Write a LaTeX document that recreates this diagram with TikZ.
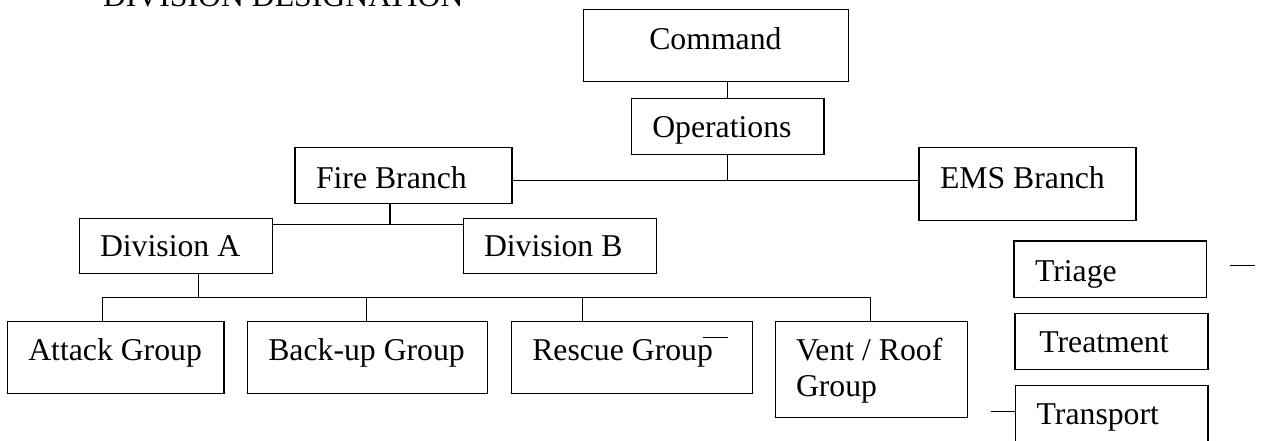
\documentclass[tikz,border=0pt]{standalone}
\usepackage{fontspec}
\setmainfont{Liberation Serif}
\begin{document}
\begin{tikzpicture}[x=0.75pt,y=-0.75pt,
  box/.style={draw, line width=0.85pt, inner sep=0pt, outer sep=0pt, anchor=north west},
  txt/.style={anchor=base west, inner sep=0pt, outer sep=0pt, font=\fontsize{23.8}{27.5}\selectfont},
  conn/.style={line width=0.85pt}]
\useasboundingbox (0,0) rectangle (1269,440);
\def\u{0.75pt}
% title
\node[txt] (title) at (103,6) {DIVISION DESIGNATION};
% boxes
\node[box, minimum width=265*\u,   minimum height=72*\u]   (cmd)       at (583.3,9.3) {};
\node[box, minimum width=192.3*\u, minimum height=56.4*\u] (ops)       at (631.7,98.3) {};
\node[box, minimum width=217*\u,   minimum height=55.6*\u] (fire)      at (295,147.7) {};
\node[box, minimum width=217*\u,   minimum height=73.4*\u] (ems)       at (919,147.3) {};
\node[box, minimum width=193*\u,   minimum height=55*\u]   (divA)      at (79.3,218.3) {};
\node[box, minimum width=193*\u,   minimum height=55.4*\u] (divB)      at (463.3,218.3) {};
\node[box, minimum width=216.7*\u, minimum height=72*\u]   (attack)    at (7.3,321.3) {};
\node[box, minimum width=240.4*\u, minimum height=72*\u]   (backup)    at (247.3,321.3) {};
\node[box, minimum width=240.6*\u, minimum height=72*\u]   (rescue)    at (511.7,321.3) {};
\node[box, minimum width=192.4*\u, minimum height=96.4*\u] (vent)      at (775.3,321.3) {};
\node[box, minimum width=192.7*\u, minimum height=56.3*\u] (triage)    at (1014,241) {};
\node[box, minimum width=193*\u,   minimum height=56.4*\u] (treat)     at (1015,313.3) {};
\node[box, minimum width=192.3*\u, minimum height=75*\u]   (transport) at (1015.7,385.7) {};
% texts
\node[txt] (tcmd)    at (649.3,49.3)  {Command};
\node[txt] (tops)    at (652.3,137.7) {Operations};
\node[txt] (tfire)   at (316,188.3)   {Fire Branch};
\node[txt] (tems)    at (940,188.3)   {EMS Branch};
\node[txt] (tdivA)   at (100,256.7)   {Division A};
\node[txt] (tdivB)   at (484,256.7)   {Division B};
\node[txt] (tattack) at (28.3,360)    {Attack Group};
\node[txt] (tbackup) at (268.3,360)   {Back-up Group};
\node[txt] (trescue) at (532.3,360)   {Rescue Group};
\node[txt] (tvent1)  at (796,360)     {Vent / Roof};
\node[txt] (tvent2)  at (796,396.7)   {Group};
\node[txt] (ttriage) at (1035,281)    {Triage};
\node[txt] (ttreat)  at (1039.3,352.3){Treatment};
\node[txt] (ttrans)  at (1036.7,424)  {Transport};
% coordinates
\coordinate (bus1) at (727.3,180.7);
\coordinate (bus2) at (390,224.3);
\coordinate (bus3) at (198.3,297.3);
\coordinate (dA) at (102.3,297.3);
\coordinate (dB) at (366.7,297.3);
\coordinate (dR) at (582.3,297.3);
\coordinate (dV) at (870.7,297.3);
\coordinate (ov1) at (703.3,337.7);
\coordinate (ov2) at (728.3,337.7);
\coordinate (td1) at (1230,265.7);
\coordinate (td2) at (1255,265.7);
\coordinate (tr1) at (990.7,411.7);
% connectors
\draw[conn] (bus1 |- cmd.south) -- (bus1 |- ops.north);
\draw[conn] (bus1 |- ops.south) -- (bus1);
\draw[conn] (bus1 -| fire.east) -- (bus1 -| ems.west);
\draw[conn] (bus2 |- fire.south) -- (bus2);
\draw[conn] (bus2 -| divA.east) -- (bus2 -| divB.west);
\draw[conn] (bus3 |- divA.south) -- (bus3);
\draw[conn] (dA) -- (dV);
\draw[conn] (dA) -- (dA |- attack.north);
\draw[conn] (dB) -- (dB |- backup.north);
\draw[conn] (dR) -- (dR |- rescue.north);
\draw[conn] (dV) -- (dV |- vent.north);
\draw[conn] (ov1) -- (ov2);
\draw[conn] (td1) -- (td2);
\draw[conn] (tr1) -- (tr1 -| transport.west);
\end{tikzpicture}
\end{document}
